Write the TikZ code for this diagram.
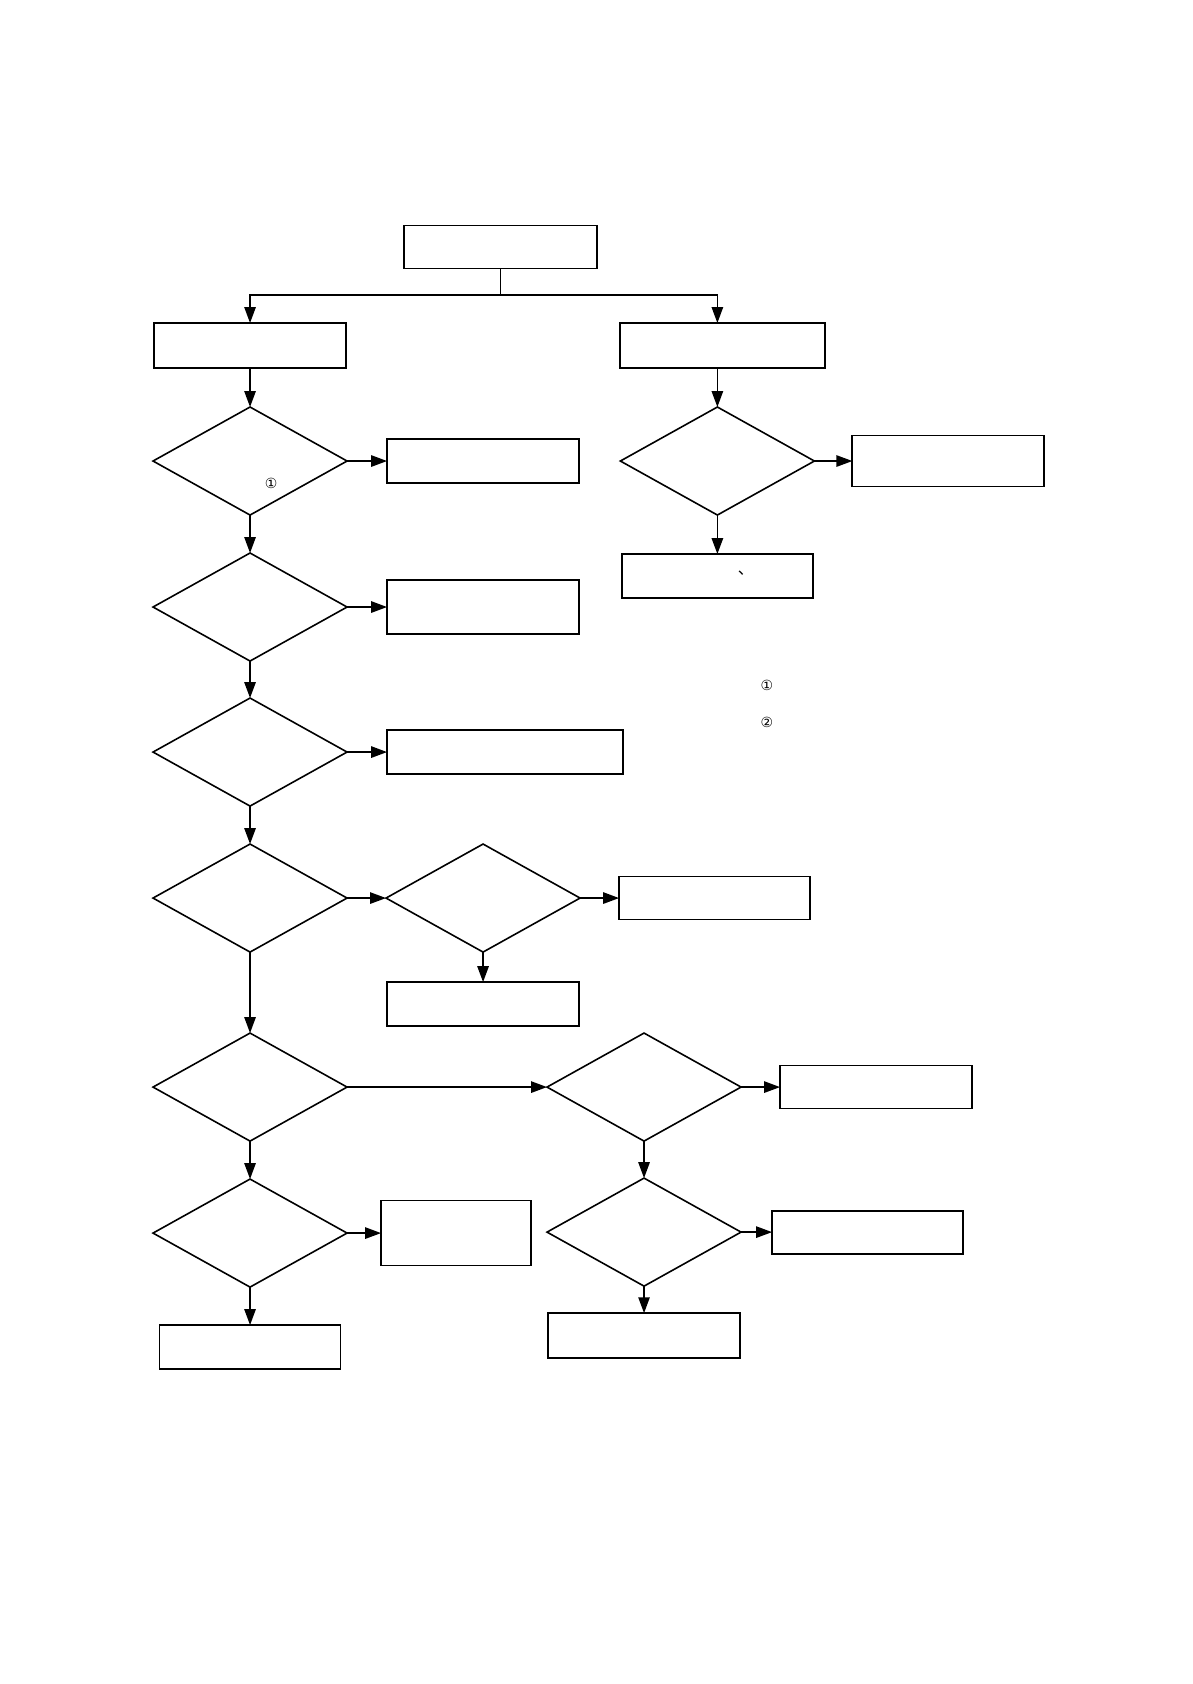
\documentclass[tikz,border=0pt]{standalone}
\usepackage{fontspec}
\newfontfamily\symfont{DejaVu Sans}
\newfontfamily\cjkfont{Noto Sans CJK SC}
\usetikzlibrary{arrows.meta,positioning,calc,shapes.geometric}

\begin{document}
\begin{tikzpicture}[
    node distance=0.687cm,
    box/.style={draw,line width=0.9pt,minimum width=3.382cm,minimum height=0.775cm,inner sep=0pt,outer sep=0pt},
    dia/.style={draw,diamond,line width=0.8pt,minimum width=3.418cm,minimum height=1.903cm,inner sep=0pt,outer sep=0pt},
    arr/.style={-{Triangle[length=2.8mm,width=2mm]},line width=0.8pt},
    note/.style={font=\symfont\fontsize{7}{8}\selectfont,inner sep=0pt}
  ]
  \useasboundingbox (0,0) rectangle (21,-29.667);
  \node[box,minimum width=3.4cm,minimum height=0.758cm] (top) at (8.817,-4.351) {};
  \coordinate (split) at ($(top.south)+(0,-0.472)$);
  \node[box,minimum height=0.793cm] (l1) at (4.405,-6.087) {};
  \node[box,minimum width=3.611cm,minimum height=0.793cm] (r1) at (12.728,-6.087) {};
  \node[dia,below=of l1] (d1) {};
  \node[box,right=0.705cm of d1] (b1) {};
  \node[dia,below=0.669cm of d1] (d2) {};
  \node[box,right=0.705cm of d2,minimum height=0.951cm] (b2) {};
  \node[dia,below=0.652cm of d2] (d3) {};
  \node[box,right=0.705cm of d3,minimum width=4.158cm] (b3) {};
  \node[dia,below=0.669cm of d3] (d4) {};
  \node[dia,right=of d4] (d4b) {};
  \node[box,right=of d4b,minimum width=3.365cm,minimum height=0.758cm] (b4) {};
  \node[box,below=0.529cm of d4b] (b4b) {};
  \node[dia,below=1.427cm of d4] (d5) {};
  \node[dia,right=3.523cm of d5] (d5b) {};
  \node[box,right=of d5b,minimum height=0.758cm] (b5) {};
  \node[dia,below=0.669cm of d5] (d6) {};
  \node[box,right=0.599cm of d6,minimum width=2.643cm,minimum height=1.145cm] (b6) {};
  \node[box,below=0.669cm of d6,minimum width=3.189cm] (b6b) {};
  \node[dia,below=0.652cm of d5b] (d6b) {};
  \node[box,right=0.546cm of d6b,minimum width=3.365cm,minimum height=0.758cm] (b7) {};
  \node[box,below=0.476cm of d6b,minimum height=0.793cm] (b7b) {};
  \node[dia,below=of r1,xshift=-0.09cm] (dr) {};
  \node[box,right=0.669cm of dr,minimum height=0.898cm] (br) {};
  \node[box,below=of dr,minimum width=3.365cm] (brd) {};
  \node[note] (c1) at ($(d1)+(0.37,-0.39)$) {①};
  \node[font=\cjkfont\fontsize{8}{9}\selectfont,inner sep=0pt] (dun) at ($(brd)+(0.5,0.05)$) {、};
  \node[note] (n1) at (13.512,-12.068) {①};
  \node[note] (n2) at (13.512,-12.719) {②};
  \draw[line width=0.8pt] (top.south) -- (split);
  \draw[arr] (split) -| (l1.north);
  \draw[arr] (split) -| (r1.north -| dr.north);
  \draw[arr] (l1) -- (d1);
  \draw[arr] (d1) -- (b1);
  \draw[arr] (d1) -- (d2);
  \draw[arr] (d2) -- (b2);
  \draw[arr] (d2) -- (d3);
  \draw[arr] (d3) -- (b3);
  \draw[arr] (d3) -- (d4);
  \draw[arr] (d4) -- (d4b);
  \draw[arr] (d4b) -- (b4);
  \draw[arr] (d4b) -- (b4b);
  \draw[arr] (d4) -- (d5);
  \draw[arr] (d5) -- (d5b);
  \draw[arr] (d5b) -- (b5);
  \draw[arr] (d5) -- (d6);
  \draw[arr] (d6) -- (b6);
  \draw[arr] (d6) -- (b6b);
  \draw[arr] (d5b) -- (d6b);
  \draw[arr] (d6b) -- (b7);
  \draw[arr] (d6b) -- (b7b);
  \draw[arr] (r1.south -| dr.north) -- (dr.north);
  \draw[arr] (dr) -- (br);
  \draw[arr] (dr) -- (brd);
\end{tikzpicture}
\end{document}
